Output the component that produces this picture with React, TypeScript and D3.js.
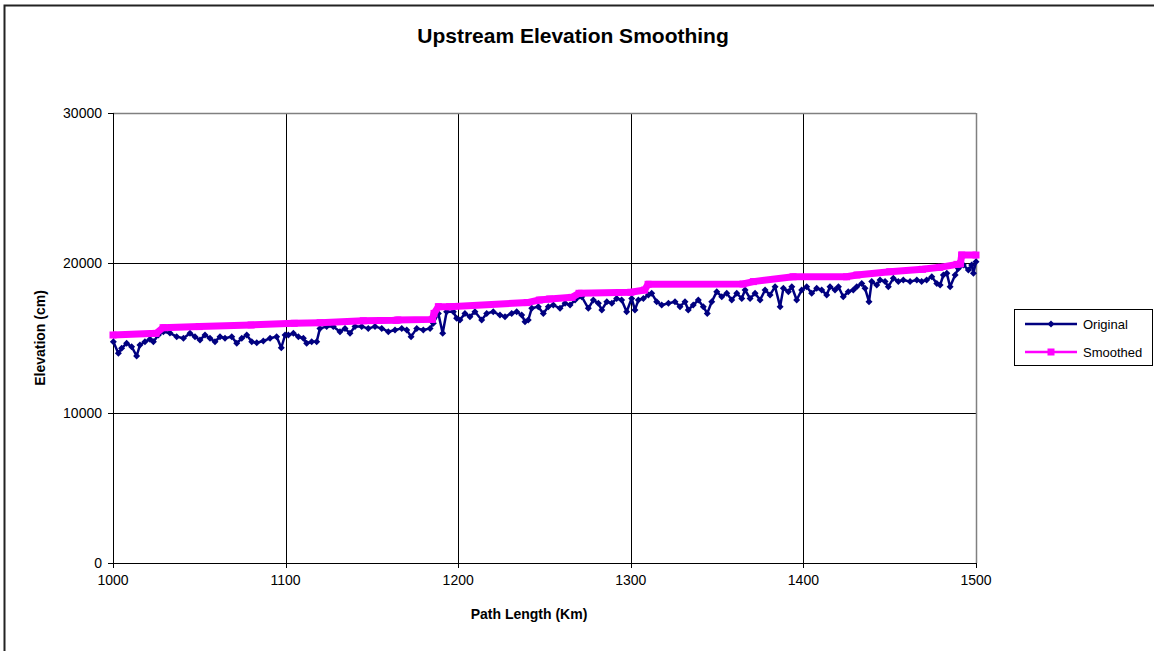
import React from "react";
import * as d3 from "d3";

const chartTitle = "Upstream Elevation Smoothing";
const xTitle = "Path Length (Km)";
const yTitle = "Elevation (cm)";
const xTicks = [1000, 1100, 1200, 1300, 1400, 1500];
const yTicks = [0, 10000, 20000, 30000];
const seriesNames = ["Original", "Smoothed"];

const originalKm = [
  1000.2, 1003.1, 1005, 1007.9, 1010.8, 1013.7, 1015.6, 1018.5, 1021.4, 1023.4,
  1026.3, 1029.2, 1033, 1036.9, 1040.8, 1044.6, 1047.5, 1050.4, 1053.3, 1056.2,
  1059.1, 1062, 1064.9, 1068.8, 1071.7, 1074.6, 1077.5, 1080.4, 1083.3, 1087.1,
  1091, 1094.8, 1097.5, 1099.7, 1101.6, 1104.5, 1107.4, 1110.3, 1112.2, 1115.1,
  1118, 1119.9, 1123.8, 1127.6, 1131.5, 1134.4, 1137.3, 1140.2, 1144.1, 1147.9,
  1151.8, 1155.7, 1159.5, 1163.4, 1167.3, 1170.2, 1172.7, 1176, 1179.8, 1183.7,
  1185.6, 1188.5, 1191, 1193.3, 1197.2, 1199.1, 1201, 1203.9, 1206.8, 1209.7,
  1213.6, 1216.5, 1220.3, 1224.2, 1227.1, 1231, 1233.9, 1236.8, 1238.7, 1240.6,
  1242.6, 1246.4, 1249.3, 1252.2, 1255.1, 1259, 1261.9, 1264.8, 1267.7, 1271.6,
  1275.4, 1278.3, 1281.2, 1283.2, 1286.1, 1289, 1291.8, 1294.7, 1297.6, 1300.5,
  1302.4, 1304.4, 1307.3, 1310.2, 1312.1, 1315, 1317.9, 1321.8, 1325.6, 1328.5,
  1331.4, 1333.3, 1336.2, 1339.1, 1342, 1344.3, 1346.9, 1349.8, 1352.7, 1355.6,
  1358.5, 1361.4, 1364.3, 1366.2, 1369.1, 1372, 1374.9, 1377.8, 1380.7, 1383.6,
  1386.5, 1388.4, 1391.3, 1393.3, 1396.1, 1399, 1401.9, 1404.8, 1407.7, 1410.6,
  1413.5, 1415.4, 1418.3, 1420.3, 1423.1, 1426, 1428.9, 1430.9, 1433.8, 1435.7,
  1438, 1439.6, 1442.5, 1444.4, 1447.3, 1449.2, 1452.1, 1455, 1457.9, 1461.8,
  1465.7, 1468.5, 1471.4, 1474.4, 1477.3, 1479.2, 1481.1, 1483.1, 1485, 1487.9,
  1489.8, 1492.7, 1495.6, 1497.5, 1498.5, 1500,
];
const originalElev = [
  14750, 13980, 14310, 14650, 14420, 13800, 14530, 14750, 14910, 14750,
  15200, 15420, 15330, 15090, 14980, 15310, 15090, 14870, 15200, 14980,
  14750, 15090, 14980, 15090, 14650, 14980, 15200, 14750, 14680, 14800,
  14980, 15090, 14350, 15200, 15200, 15310, 15090, 14980, 14650, 14750,
  14750, 15640, 15760, 15760, 15420, 15640, 15310, 15760, 15760, 15640,
  15760, 15640, 15420, 15530, 15640, 15530, 15090, 15640, 15530, 15640,
  15980, 16640, 15310, 16750, 16750, 16310, 16200, 16640, 16420, 16750,
  16200, 16640, 16750, 16530, 16420, 16640, 16750, 16530, 16090, 16200,
  16980, 17090, 16640, 17090, 17200, 16980, 17310, 17200, 17530, 17750,
  16980, 17530, 17310, 16870, 17420, 17310, 17640, 17530, 16750, 17640,
  16870, 17530, 17640, 17870, 17980, 17420, 17200, 17310, 17420, 17090,
  17420, 16870, 17200, 17530, 17090, 16640, 17420, 18090, 17750, 17980,
  17530, 17980, 17640, 18200, 17640, 17980, 17530, 18200, 17870, 18420,
  17090, 18310, 18090, 18420, 17530, 18200, 18420, 17980, 18310, 18200,
  17870, 18420, 18200, 18420, 17750, 18090, 18200, 18420, 18640, 18310,
  17420, 18760, 18530, 18870, 18760, 18420, 18980, 18760, 18870, 18760,
  18870, 18760, 18870, 19090, 18640, 18530, 19200, 19310, 18420, 19200,
  19640, 19870, 19530, 19870, 19310, 20090,
];

const smoothedKm = [
  1000, 1025, 1029, 1050, 1080, 1105, 1120, 1145, 1164, 1165, 1185, 1186,
  1188.5, 1195, 1240, 1247, 1253, 1266, 1270, 1300, 1308, 1310, 1365, 1371,
  1394, 1425, 1431, 1450, 1469, 1479, 1489, 1491, 1491.7, 1500,
];
const smoothedElev = [
  15200, 15310, 15690, 15760, 15870, 15980, 16020, 16150, 16180, 16200, 16240, 16640,
  17090, 17090, 17360, 17530, 17600, 17710, 17980, 18050, 18200, 18580, 18600, 18760,
  19080, 19080, 19200, 19420, 19580, 19710, 19910, 19950, 20530, 20530,
];

const FONT = "'Liberation Sans', Arial, sans-serif";
const NAVY = "#000080";
const MAGENTA = "#FF00FF";

export default function App() {
  const left = 113, right = 976, top = 113, bottom = 563;
  const x = d3.scaleLinear().domain([1000, 1500]).range([left, right]);
  const y = d3.scaleLinear().domain([0, 30000]).range([bottom, top]);

  const orig = originalKm.map((k, i) => [k, originalElev[i]] as [number, number]);
  const smooth = smoothedKm.map((k, i) => [k, smoothedElev[i]] as [number, number]);
  const line = d3.line<[number, number]>().x((d) => x(d[0])).y((d) => y(d[1]));

  const crisp = (v: number) => Math.round(v) + 0.5;
  const diamond = (cx: number, cy: number, r: number) =>
    `M${cx},${cy - r}L${cx + r},${cy}L${cx},${cy + r}L${cx - r},${cy}Z`;

  return (
    <svg
      width={1154}
      height={651}
      style={{ position: "absolute", left: 0, top: 0, background: "#fff" }}
      fontFamily={FONT}
    >
      <rect x={0} y={0} width={1154} height={651} fill="#fff" />
      <rect x={4.5} y={5.5} width={1300} height={800} fill="none" stroke="#222" strokeWidth={2} />

      <text x={573} y={43} textAnchor="middle" fontSize={21} fontWeight="bold">
        {chartTitle}
      </text>

      {/* gridlines */}
      {yTicks.filter((t) => t > 0).map((t) => (
        <line key={"gy" + t} x1={left} x2={right} y1={crisp(y(t))} y2={crisp(y(t))} stroke="#000" strokeWidth={1} />
      ))}
      {xTicks.filter((t) => t > 1000 && t < 1500).map((t) => (
        <line key={"gx" + t} x1={crisp(x(t))} x2={crisp(x(t))} y1={top} y2={bottom} stroke="#000" strokeWidth={1} />
      ))}
      {/* plot border */}
      <line x1={left} x2={right} y1={crisp(top)} y2={crisp(top)} stroke="#808080" strokeWidth={1.5} />
      <line x1={crisp(right)} x2={crisp(right)} y1={top} y2={bottom} stroke="#808080" strokeWidth={1.5} />
      {/* axes */}
      <line x1={crisp(left)} x2={crisp(left)} y1={top} y2={bottom + 5} stroke="#000" strokeWidth={1} />
      <line x1={left - 5} x2={right} y1={crisp(bottom)} y2={crisp(bottom)} stroke="#000" strokeWidth={1} />
      {yTicks.map((t) => (
        <g key={"yt" + t}>
          <line x1={left - 5} x2={left} y1={crisp(y(t))} y2={crisp(y(t))} stroke="#000" />
          <text x={102} y={y(t) + 5} textAnchor="end" fontSize={14}>
            {t}
          </text>
        </g>
      ))}
      {xTicks.map((t) => (
        <g key={"xt" + t}>
          <line x1={crisp(x(t))} x2={crisp(x(t))} y1={bottom} y2={bottom + 5} stroke="#000" />
          <text x={x(t)} y={585} textAnchor="middle" fontSize={14}>
            {t}
          </text>
        </g>
      ))}

      <text x={529} y={619} textAnchor="middle" fontSize={14} fontWeight="bold">
        {xTitle}
      </text>
      <text
        transform={`translate(45,${338}) rotate(-90)`}
        textAnchor="middle"
        fontSize={14}
        fontWeight="bold"
      >
        {yTitle}
      </text>

      {/* Original series */}
      <path d={line(orig) || ""} fill="none" stroke={NAVY} strokeWidth={2.5} strokeLinejoin="round" />
      {orig.map((d, i) => (
        <path key={"o" + i} d={diamond(x(d[0]), y(d[1]), 3.5)} fill={NAVY} />
      ))}

      {/* Smoothed series */}
      <path d={line(smooth) || ""} fill="none" stroke={MAGENTA} strokeWidth={7} strokeLinejoin="miter" />
      {smooth.map((d, i) => (
        <rect key={"s" + i} x={x(d[0]) - 3.5} y={y(d[1]) - 3.5} width={7} height={7} fill={MAGENTA} />
      ))}

      {/* Legend */}
      <rect x={1014.5} y={309.5} width={138} height={56} fill="#fff" stroke="#000" strokeWidth={1} />
      <line x1={1025} x2={1077} y1={324} y2={324} stroke={NAVY} strokeWidth={2.5} />
      <path d={diamond(1051, 324, 3.5)} fill={NAVY} />
      <text x={1083} y={328.5} fontSize={13}>
        {seriesNames[0]}
      </text>
      <line x1={1025} x2={1077} y1={352} y2={352} stroke={MAGENTA} strokeWidth={2.5} />
      <rect x={1047.5} y={348.5} width={7} height={7} fill={MAGENTA} />
      <text x={1083} y={356.5} fontSize={13}>
        {seriesNames[1]}
      </text>
    </svg>
  );
}
